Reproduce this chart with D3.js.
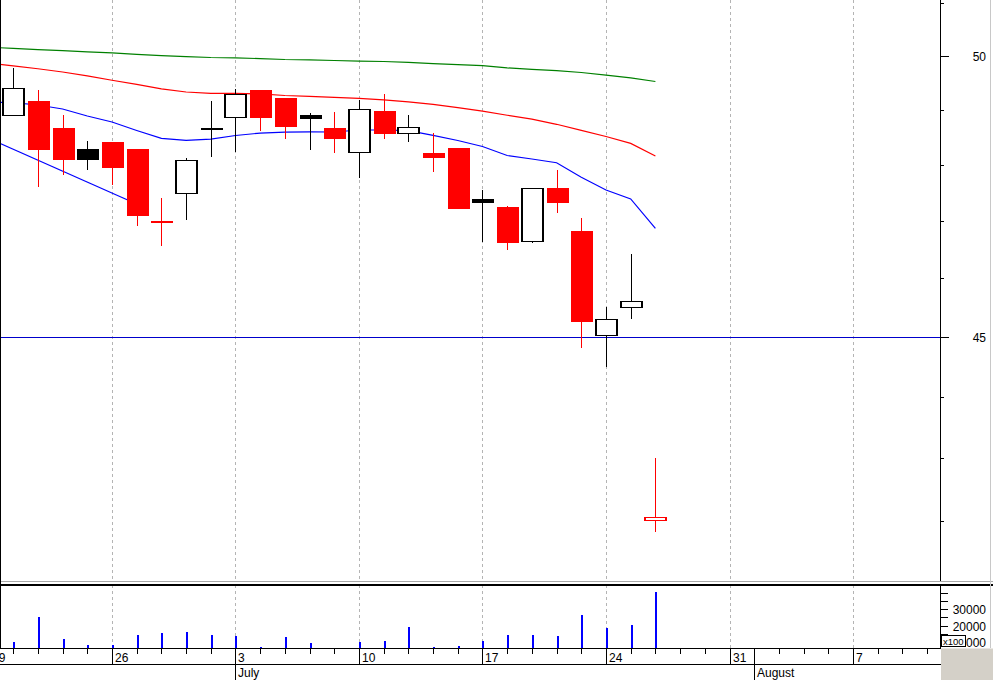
<!DOCTYPE html>
<html><head><meta charset="utf-8">
<script src="https://cdn.jsdelivr.net/npm/d3@7"></script>
<style>
body{margin:0;background:#fff;}
svg{display:block;}
text{font-family:"Liberation Sans",Arial,sans-serif;font-size:12px;fill:#000;}
</style>
</head><body>
<svg id="c" width="993" height="680"></svg>
<script>
// ---------------- DATA ----------------
const tradingDays = ["2006-06-19","2006-06-20","2006-06-21","2006-06-22","2006-06-23",
  "2006-06-26","2006-06-27","2006-06-28","2006-06-29","2006-06-30",
  "2006-07-03","2006-07-04","2006-07-05","2006-07-06","2006-07-07",
  "2006-07-10","2006-07-11","2006-07-12","2006-07-13","2006-07-14",
  "2006-07-17","2006-07-18","2006-07-19","2006-07-20","2006-07-21",
  "2006-07-24","2006-07-25","2006-07-26","2006-07-27","2006-07-28",
  "2006-07-31","2006-08-01","2006-08-02","2006-08-03","2006-08-04",
  "2006-08-07","2006-08-08","2006-08-09","2006-08-10","2006-08-11"];

const candleDates = ["2006-06-20","2006-06-21","2006-06-22","2006-06-23",
  "2006-06-26","2006-06-27","2006-06-28","2006-06-29","2006-06-30",
  "2006-07-03","2006-07-04","2006-07-05","2006-07-06","2006-07-07",
  "2006-07-10","2006-07-11","2006-07-12","2006-07-13","2006-07-14",
  "2006-07-17","2006-07-18","2006-07-19","2006-07-20","2006-07-21",
  "2006-07-24","2006-07-25","2006-07-26"];
const openP  = [48.88,49.16,48.67,48.29,48.41,48.29,47.00,47.47,48.67,48.85,49.37,49.22,48.91,48.67,48.21,48.98,48.55,48.21,48.30,47.395,47.25,46.64,47.59,46.82,45.01,45.50,42.00];
const highP  = [49.77,49.37,48.91,48.43,48.41,48.29,47.41,48.12,49.16,49.38,49.37,49.22,48.94,48.96,49.18,49.29,48.91,48.57,48.30,47.55,47.26,47.58,47.91,47.05,45.51,46.43,43.00];
const lowP   = [48.88,47.61,47.81,47.91,47.64,46.92,46.57,47.02,48.15,48.23,48.62,48.47,48.26,48.22,47.77,48.47,48.42,47.88,47.22,46.63,46.50,46.62,47.15,44.82,44.50,45.30,41.82];
const closeP = [49.40,48.26,48.08,48.09,47.95,47.09,46.97,48.08,48.63,49.30,48.86,48.69,48.83,48.47,49.01,48.56,48.68,48.13,47.22,47.324,46.62,47.58,47.31,45.26,45.30,45.61,42.06];
const volume = [10200,25300,11800,8200,8200,14200,15600,16200,14200,13600,6800,13000,9600,6400,10200,10600,19300,7000,7600,10800,14400,14400,13800,26500,18700,20500,40500]; // x100

// moving averages, one value per trading day from 2006-06-19 to 2006-07-26
const maLong  = [50.165,50.144,50.120,50.099,50.079,50.060,50.032,50.007,49.989,49.972,49.966,49.951,49.934,49.929,49.916,49.904,49.897,49.880,49.858,49.839,49.820,49.777,49.751,49.725,49.692,49.643,49.593,49.524];
const maMid   = [49.869,49.817,49.762,49.701,49.630,49.548,49.470,49.389,49.330,49.306,49.306,49.294,49.265,49.248,49.232,49.213,49.186,49.149,49.101,49.040,48.978,48.902,48.831,48.736,48.626,48.513,48.388,48.160];
const maShort = [49.145,49.132,49.090,49.016,48.888,48.778,48.623,48.479,48.444,48.464,48.532,48.575,48.593,48.597,48.595,48.632,48.632,48.619,48.535,48.441,48.332,48.169,48.106,48.039,47.779,47.550,47.390,46.872];

const trendDates  = ["2006-06-19","2006-06-27"];
const trendValues = [48.48,47.30];
const levelValue = 45;

const priceTicks = [41,42,43,44,45,46,47,48,49,50,51];
const priceLabels = [45,50];
const volumeTicks = [10000,15000,20000,25000,30000,35000,40000];
const volumeLabels = [10000,20000,30000];
const monthStarts = ["2006-07-03","2006-08-01"];
const monthNames = ["July","August"];

// ---------------- LAYOUT ----------------
const W = 993, H = 680;
const axisX = 940.5, priceTop = 0, priceBottom = 581, volTop = 585, volBottom = 648, dayRowBottom = 664;

const svg = d3.select("#c");
const parse = d3.utcParse("%Y-%m-%d");
const di = d => tradingDays.indexOf(d);

const x = d3.scaleLinear().domain([0, 27]).range([-11.5, 655.4]);
const y = d3.scaleLog().domain([45, 50]).range([337, 56]);
const yv = d3.scaleLinear().domain([10000, 30000]).range([642, 609]);

const px = v => Math.round(v) + 0.5;

svg.append("rect").attr("width", W).attr("height", H).attr("fill", "#fff");

svg.append("defs").append("clipPath").attr("id", "pclip")
  .append("rect").attr("x", 0).attr("y", priceTop).attr("width", axisX).attr("height", priceBottom);

const mondays = tradingDays.filter(d => parse(d).getUTCDay() === 1);

// grid
const grid = svg.append("g").attr("stroke", "#b4b4b4").attr("stroke-dasharray", "3,3").attr("shape-rendering", "crispEdges");
mondays.forEach(d => {
  const xx = px(x(di(d)));
  if (xx < 1 || xx > axisX) return;
  grid.append("line").attr("x1", xx).attr("x2", xx).attr("y1", priceTop).attr("y2", priceBottom);
  grid.append("line").attr("x1", xx).attr("x2", xx).attr("y1", volTop).attr("y2", volBottom);
});

const pg = svg.append("g").attr("clip-path", "url(#pclip)");

// level line
pg.append("line").attr("x1", 0).attr("x2", axisX).attr("y1", px(y(levelValue))).attr("y2", px(y(levelValue)))
  .attr("stroke", "#0000cc").attr("shape-rendering", "crispEdges");

// moving averages
const maLine = d3.line().x((v, i) => x(i)).y(v => y(v));
[[maLong, "#008000"], [maMid, "#ff0000"], [maShort, "#0000ff"]].forEach(([arr, c]) => {
  pg.append("path").attr("d", maLine(arr)).attr("fill", "none").attr("stroke", c).attr("stroke-width", 1.2);
});
pg.append("path").attr("d", d3.line()(trendDates.map((d, i) => [x(di(d)), y(trendValues[i])])))
  .attr("fill", "none").attr("stroke", "#0000ff").attr("stroke-width", 1.2);

// candles
const bodyW = 22;
candleDates.forEach((d, i) => {
  const cx = Math.round(x(di(d)));
  const o = openP[i], c = closeP[i], h = highP[i], l = lowP[i];
  const up = i === 0 ? true : c >= closeP[i - 1];
  const col = up ? "#000" : "#ff0000";
  const filled = c < o;
  pg.append("line").attr("x1", cx + 0.5).attr("x2", cx + 0.5).attr("y1", Math.round(y(h))).attr("y2", Math.round(y(l)))
    .attr("stroke", col).attr("shape-rendering", "crispEdges");
  let top = Math.round(y(Math.max(o, c))), bot = Math.round(y(Math.min(o, c)));
  if (bot - top < 2) { const m = Math.round((top + bot) / 2); top = m - 1; bot = m + 2; }
  if (filled || bot - top <= 3) {
    pg.append("rect").attr("x", cx - bodyW / 2 + 0.5).attr("y", top).attr("width", bodyW).attr("height", bot - top)
      .attr("fill", col).attr("shape-rendering", "crispEdges");
  } else {
    pg.append("rect").attr("x", cx - bodyW / 2 + 1).attr("y", top + 0.5).attr("width", bodyW - 1).attr("height", bot - top - 1)
      .attr("fill", "#fff").attr("stroke", col).attr("stroke-width", 1.5).attr("shape-rendering", "crispEdges");
  }
});

// volume bars
svg.append("g").selectAll("rect").data(candleDates).join("rect")
  .attr("x", d => Math.round(x(di(d))) - 0.5)
  .attr("width", 2)
  .attr("y", (d, i) => Math.min(volBottom, yv(volume[i])))
  .attr("height", (d, i) => Math.max(0, volBottom - yv(volume[i])))
  .attr("fill", "#0000ff").attr("shape-rendering", "crispEdges");

// frames
const fr = svg.append("g").attr("shape-rendering", "crispEdges");
fr.append("line").attr("x1", 0).attr("x2", W).attr("y1", 581.5).attr("y2", 581.5).attr("stroke", "#a8a8a8");
fr.append("line").attr("x1", 0).attr("x2", W).attr("y1", 585).attr("y2", 585).attr("stroke", "#000").attr("stroke-width", 2);
fr.append("line").attr("x1", 0.5).attr("x2", 0.5).attr("y1", 0).attr("y2", volBottom).attr("stroke", "#000");
fr.append("line").attr("x1", 990.5).attr("x2", 990.5).attr("y1", 0).attr("y2", volBottom).attr("stroke", "#c8c8c8");
fr.append("line").attr("x1", axisX).attr("x2", axisX).attr("y1", 0).attr("y2", priceBottom).attr("stroke", "#000");
fr.append("line").attr("x1", axisX).attr("x2", axisX).attr("y1", volTop).attr("y2", volBottom).attr("stroke", "#000");

// price axis ticks + labels
priceTicks.forEach(t => {
  const yy = px(y(t));
  const major = priceLabels.includes(t);
  fr.append("line").attr("x1", axisX).attr("x2", axisX + (major ? 8 : 3)).attr("y1", yy).attr("y2", yy).attr("stroke", "#000");
});
priceLabels.forEach(t => {
  svg.append("text").attr("x", 986).attr("y", y(t) + 5).attr("text-anchor", "end").text(t);
});

// volume axis
volumeTicks.forEach(t => {
  const yy = px(yv(t));
  fr.append("line").attr("x1", axisX).attr("x2", axisX + 7).attr("y1", yy).attr("y2", yy).attr("stroke", "#000");
});
volumeLabels.forEach(t => {
  svg.append("text").attr("x", 986).attr("y", yv(t) + 5).attr("text-anchor", "end").text(t);
});
svg.append("rect").attr("x", 941.5).attr("y", 635.5).attr("width", 24).attr("height", 11)
  .attr("fill", "#fff").attr("stroke", "#000").attr("shape-rendering", "crispEdges");
svg.append("text").attr("x", 943).attr("y", 644.5).style("font-size", "9.5px").text("x100");

// time axis
fr.append("line").attr("x1", 0).attr("x2", axisX).attr("y1", volBottom + 0.5).attr("y2", volBottom + 0.5).attr("stroke", "#000");
fr.append("line").attr("x1", 0).attr("x2", axisX).attr("y1", dayRowBottom + 0.5).attr("y2", dayRowBottom + 0.5).attr("stroke", "#000");
tradingDays.forEach(d => {
  const xx = px(x(di(d)));
  if (xx > axisX) return;
  const isMon = parse(d).getUTCDay() === 1;
  const isMonth = monthStarts.includes(d);
  fr.append("line").attr("x1", xx).attr("x2", xx).attr("y1", volBottom)
    .attr("y2", isMonth ? H : (isMon ? dayRowBottom : volBottom + 6)).attr("stroke", "#000");
  if (isMon) {
    svg.append("text").attr("x", xx + 2.5).attr("y", 661.5).text(parse(d).getUTCDate());
  }
});
monthStarts.forEach((d, i) => {
  svg.append("text").attr("x", px(x(di(d))) + 2.5).attr("y", 677).text(monthNames[i]);
});

// grey corner
svg.append("rect").attr("x", 941).attr("y", volBottom + 0.5).attr("width", W - 941).attr("height", H - volBottom)
  .attr("fill", "#d4d0c8");
</script>
</body></html>
